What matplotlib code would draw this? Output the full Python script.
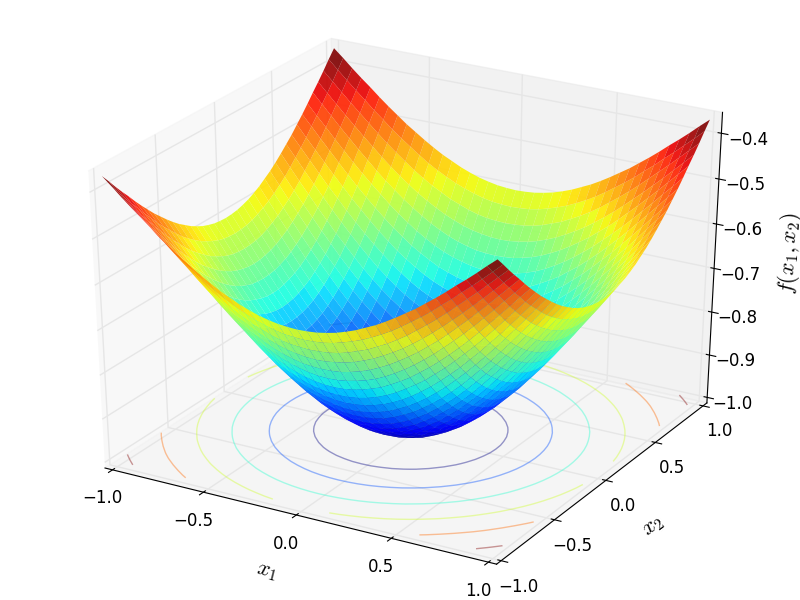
import numpy as np
import matplotlib
matplotlib.use("Agg")
import matplotlib.pyplot as plt
from mpl_toolkits.mplot3d import Axes3D

# values of -f read for x1, x2 going 0 to 1, the other three quadrants are mirrors
GRID_1D = [0.00, 0.05, 0.10, 0.15, 0.20, 0.25, 0.30, 0.35, 0.40, 0.45, 0.50,
           0.55, 0.60, 0.65, 0.70, 0.75, 0.80, 0.85, 0.90, 0.95, 1.00]
DEPTH = [
    [1.000, .999, .995, .989, .980, .969, .956, .941, .923, .904, .882, .860, .835, .810, .783, .755, .726, .697, .667, .637, .607],
    [.999, .998, .994, .988, .979, .968, .955, .939, .922, .903, .881, .859, .834, .809, .782, .754, .725, .696, .666, .636, .606],
    [.995, .994, .990, .984, .975, .964, .951, .936, .919, .899, .878, .855, .831, .806, .779, .751, .723, .693, .664, .634, .604],
    [.989, .988, .984, .978, .969, .958, .945, .930, .913, .894, .873, .850, .826, .801, .774, .746, .718, .689, .660, .630, .600],
    [.980, .979, .975, .969, .961, .950, .937, .922, .905, .886, .865, .843, .819, .794, .767, .740, .712, .683, .654, .624, .595],
    [.969, .968, .964, .958, .950, .939, .927, .912, .895, .876, .855, .833, .810, .785, .759, .732, .704, .675, .646, .617, .588],
    [.956, .955, .951, .945, .937, .927, .914, .899, .882, .864, .844, .822, .799, .774, .748, .722, .694, .666, .638, .609, .580],
    [.941, .939, .936, .930, .922, .912, .899, .885, .868, .850, .830, .809, .786, .761, .736, .710, .683, .655, .627, .599, .570],
    [.923, .922, .919, .913, .905, .895, .882, .868, .852, .834, .815, .794, .771, .747, .723, .697, .670, .643, .616, .588, .560],
    [.904, .903, .899, .894, .886, .876, .864, .850, .834, .817, .798, .777, .755, .732, .707, .682, .656, .630, .603, .576, .548],
    [.882, .881, .878, .873, .865, .855, .844, .830, .815, .798, .779, .759, .737, .714, .691, .666, .641, .615, .589, .562, .535],
    [.860, .859, .855, .850, .843, .833, .822, .809, .794, .777, .759, .739, .718, .696, .673, .649, .624, .599, .573, .547, .521],
    [.835, .834, .831, .826, .819, .810, .799, .786, .771, .755, .737, .718, .698, .676, .654, .630, .607, .582, .557, .532, .507],
    [.810, .809, .806, .801, .794, .785, .774, .761, .747, .732, .714, .696, .676, .655, .634, .611, .588, .564, .540, .516, .491],
    [.783, .782, .779, .774, .767, .759, .748, .736, .723, .707, .691, .673, .654, .634, .613, .591, .568, .545, .522, .498, .475],
    [.755, .754, .751, .746, .740, .732, .722, .710, .697, .682, .666, .649, .630, .611, .591, .570, .548, .526, .503, .481, .458],
    [.726, .725, .723, .718, .712, .704, .694, .683, .670, .656, .641, .624, .607, .588, .568, .548, .527, .506, .484, .462, .440],
    [.697, .696, .693, .689, .683, .675, .666, .655, .643, .630, .615, .599, .582, .564, .545, .526, .506, .486, .465, .444, .423],
    [.667, .666, .664, .660, .654, .646, .638, .627, .616, .603, .589, .573, .557, .540, .522, .503, .484, .465, .445, .425, .405],
    [.637, .636, .634, .630, .624, .617, .609, .599, .588, .576, .562, .547, .532, .516, .498, .481, .462, .444, .425, .406, .386],
    [.607, .606, .604, .600, .595, .588, .580, .570, .560, .548, .535, .521, .507, .491, .475, .458, .440, .423, .405, .386, .368],
]
XY_TICKS = [-1.0, -0.5, 0.0, 0.5, 1.0]
Z_TICKS = [-1.0, -0.9, -0.8, -0.7, -0.6, -0.5, -0.4]
CONTOUR_LEVELS = [-0.9, -0.8, -0.7, -0.6, -0.5, -0.4]

plt.rcParams["mathtext.fontset"] = "cm"
plt.rcParams["axes3d.automargin"] = True

grid = np.array(GRID_1D)
axis_vals = np.concatenate([-grid[:0:-1], grid])
quarter = -np.array(DEPTH)
half = np.vstack([quarter[:0:-1], quarter])
Z = np.hstack([half[:, :0:-1], half])
X, Y = np.meshgrid(axis_vals, axis_vals)

fig = plt.figure(figsize=(8, 6), dpi=100)
ax = fig.add_axes([0, 0, 1, 1], projection="3d")
# let the cube stretch over the whole 4:3 figure instead of staying square
ax.apply_aspect = lambda position=None: None
ax.view_init(elev=30, azim=-60)

ax.plot_surface(X, Y, Z, rstride=1, cstride=1, cmap="jet", linewidth=0, antialiased=True, shade=False, alpha=0.9)
ax.contour(X, Y, Z, levels=CONTOUR_LEVELS, zdir="z", offset=-1, cmap="jet", alpha=0.4, linewidths=1)

ax.set_xlim(-1, 1)
ax.set_ylim(-1, 1)
ax.set_zlim(-1, -0.368)
ax.set_xticks(XY_TICKS)
ax.set_yticks(XY_TICKS)
ax.set_zticks(Z_TICKS)
ax.tick_params(labelsize=12)

for axis in (ax.xaxis, ax.yaxis, ax.zaxis):
    axis._axinfo["grid"]["color"] = (0.9, 0.9, 0.9, 1)
    axis._axinfo["grid"]["linewidth"] = 1.0
    axis._axinfo["tick"]["inward_factor"] = 0.2
    axis._axinfo["tick"]["outward_factor"] = 0.1

ax.set_xlabel("$x_1$", fontsize=16, labelpad=12)
ax.set_ylabel("$x_2$", fontsize=16, labelpad=11)
ax.set_zlabel("$f(x_1, x_2)$", fontsize=16, labelpad=12)
ax.set_box_aspect((1, 1, 1), zoom=0.95)

fig.savefig("out.png", dpi=100)
